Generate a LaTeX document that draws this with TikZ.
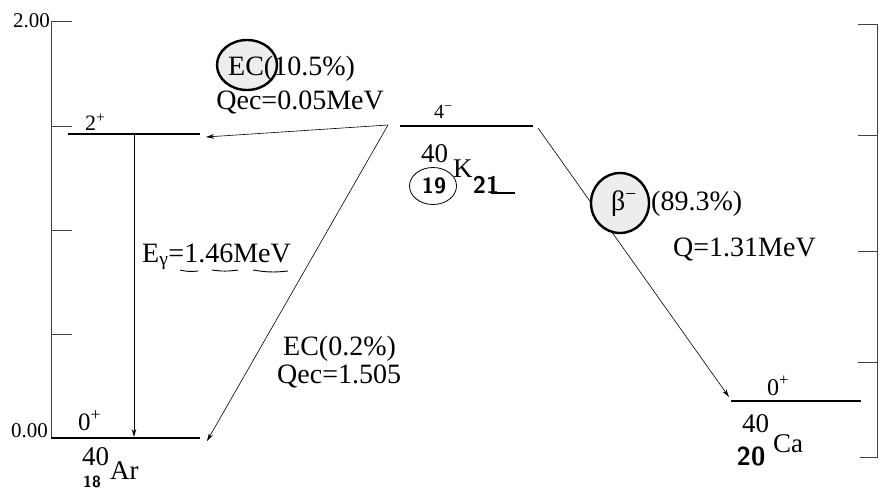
\documentclass[tikz,border=0pt]{standalone}
\usepackage{fontspec}
\setmainfont{Liberation Serif}
\usetikzlibrary{arrows.meta,shapes.geometric,positioning}

\begin{document}
\begin{tikzpicture}[
    x=1pt, y=-1pt,                      % one unit per pixel, y runs down
    lvl/.style={line width=1.8pt},      % energy levels
    axis/.style={line width=1pt, black!75},
    decay/.style={line width=0.6pt, -{Stealth[length=8pt,width=4.5pt]}},
    txt/.style={inner sep=0pt, font=\fontsize{28}{30}\selectfont},
    spin/.style={inner sep=0pt, font=\fontsize{22}{24}\selectfont},
    nucl/.style={inner sep=0pt, font=\fontsize{27}{29}\selectfont},
    scalelab/.style={inner sep=0pt, font=\fontsize{21}{23}\selectfont},
    hand/.style={inner sep=0pt, font=\sffamily\bfseries\fontsize{22}{24}\selectfont},
    ring/.style={ellipse, draw, line width=2.4pt, fill=black!7, inner sep=0pt}
]
\useasboundingbox (0,0) rectangle (885,491);

% scale on the left
\draw[axis] (72,21) -- (51,21) -- (51,438);
\foreach \y in {126,230,334} \draw[axis] (51,\y) -- (72,\y);
\node[scalelab, anchor=base east] (top) at (50,27) {2.00};
\node[scalelab, anchor=base east] (bottom) at (48,437) {0.00};

% scale on the right
\draw[axis] (858,24) -- (877,24) -- (877,457) -- (860,457);
\foreach \y in {135,251,362} \draw[axis] (858,\y) -- (877,\y);

% levels
\coordinate (ar2a) at (68,134);  \coordinate (ar2b) at (200,134);
\coordinate (ar0a) at (51,438);  \coordinate (ar0b) at (200,438);
\coordinate (ka) at (400,126);   \coordinate (kb) at (533,126);
\coordinate (caa) at (731,401);  \coordinate (cab) at (861,401);
\draw[lvl] (ar2a) -- (ar2b);
\draw[lvl] (ar0a) -- (ar0b);
\draw[lvl] (ka) -- (kb);
\draw[lvl] (caa) -- (cab);

% transitions
\coordinate (gtop) at (134,135);  \coordinate (gbot) at (134,437);
\coordinate (kl) at (388,125);    \coordinate (kr) at (538,128);
\coordinate (ecA) at (206,137);   \coordinate (ecB) at (207,441);
\coordinate (bend) at (729,397);
\draw[decay] (gtop) -- (gbot);
\draw[decay] (kl) -- (ecA);
\draw[decay] (kl) -- (ecB);
\draw[decay] (kr) -- (bend);

% pencil rings
\node[ring, minimum width=60, minimum height=50] (ecring) at (247,65) {};
\node[ring, minimum width=58, minimum height=60] (bring) at (620,203) {};
\node[ellipse, draw, line width=0.8pt, minimum width=47, minimum height=37] (zring) at (433,186) {};

% level labels
\node[spin, anchor=base west] (s2) at (85,130) {2\textsuperscript{+}};
\node[spin, anchor=base west, font=\fontsize{25}{27}\selectfont] (s0ar) at (78,430) {0\textsuperscript{+}};
\node[spin, anchor=base west, font=\fontsize{20}{22}\selectfont] (s4) at (434,118) {4\textsuperscript{−}};
\node[spin, anchor=base west, font=\fontsize{24}{26}\selectfont] (s0ca) at (767,395) {0\textsuperscript{+}};

% nuclides
\node[nucl, anchor=base west] (kA) at (421,162) {40};
\node[nucl, anchor=base west] (kK) at (453,177) {K};
\node[nucl, anchor=base west] (arA) at (82,465) {40};
\node[nucl, anchor=base west] (arX) at (110,479) {Ar};
\node[nucl, anchor=base west] (caA) at (742,432) {40};
\node[nucl, anchor=base west] (caX) at (773,452) {Ca};

% decay labels
\node[txt, anchor=base west] (ec1) at (228,75) {EC(10.5\%)};
\node[txt, anchor=base east] (q1) at (384,109) {Qec=0.05MeV};
\node[txt, anchor=base west] (eg) at (142,262) {E\textsubscript{γ}=1.46MeV};
\node[txt, anchor=base west] (ec2) at (283,355) {EC(0.2\%)};
\node[txt, anchor=base west] (q2) at (277,383) {Qec=1.505};
\node[txt, anchor=base west] (bm) at (611,210) {β\textsuperscript{−}};
\node[txt, anchor=base west] (bp) at (651,210) {(89.3\%)};
\node[txt, anchor=base west] (q3) at (673,256) {Q=1.31MeV};

% handwritten notes
\node[hand] (z19) at (434,186) {19};
\node[hand, font=\sffamily\bfseries\fontsize{24}{26}\selectfont] (n21) at (486,185) {21};
\draw[line width=1.2pt] (491,193) -- (515,193);
\node[hand, font=\sffamily\bfseries\fontsize{26}{28}\selectfont] (z20) at (751,456) {20};
\node[hand, font=\sffamily\bfseries\fontsize{16}{18}\selectfont] (z18) at (92,482) {18};
\draw[line width=0.9pt] (180,270) to[bend right=10] (198,271);
\draw[line width=0.9pt] (212,270) to[bend right=8] (238,270);
\draw[line width=0.9pt] (253,270) to[bend right=8] (288,271);
\end{tikzpicture}
\end{document}
